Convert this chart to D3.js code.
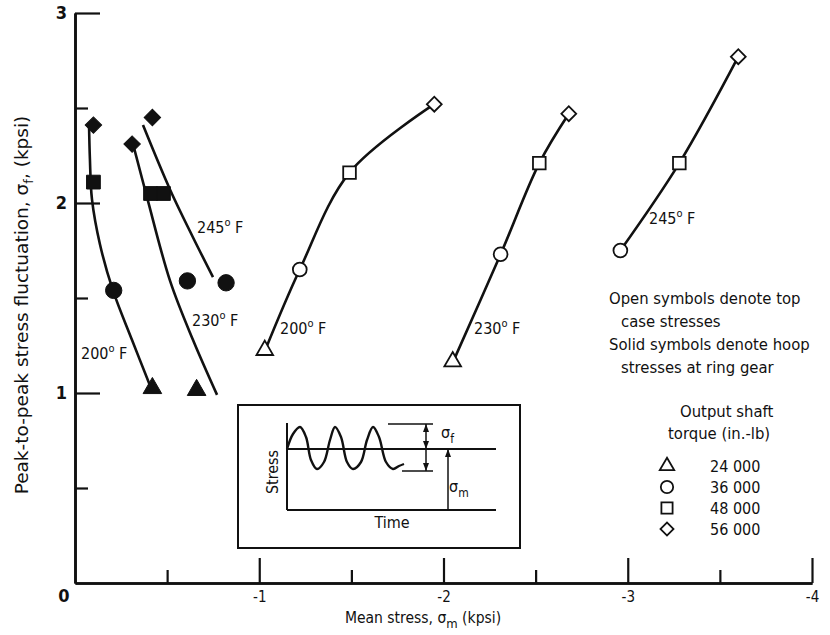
<!DOCTYPE html>
<html>
<head>
<meta charset="utf-8">
<script src="https://cdn.jsdelivr.net/npm/d3@7"></script>
<style>
  html, body { margin: 0; padding: 0; background: #fff; }
  svg { display: block; }
  text { font-family: "DejaVu Sans Condensed", "DejaVu Sans", sans-serif; fill: #111; }
</style>
</head>
<body>
<svg id="chart" width="830" height="635"></svg>
<script>
// Torque levels and the symbol used for each
const torqueLabels = ["24 000", "36 000", "48 000", "56 000"];
const symbolKinds = ["triangle", "circle", "square", "diamond"];

// Top case stresses (open symbols): [torque index, mean stress, fluctuation]
const case200 = [[0, -1.03, 1.22], [1, -1.22, 1.65], [2, -1.49, 2.16], [3, -1.95, 2.52]];
const case230 = [[0, -2.05, 1.16], [1, -2.31, 1.73], [2, -2.52, 2.21], [3, -2.68, 2.47]];
const case245 = [[1, -2.96, 1.75], [2, -3.28, 2.21], [3, -3.60, 2.77]];

// Hoop stresses at ring gear (solid symbols)
const hoop200 = [[3, -0.10, 2.41], [2, -0.10, 2.11], [1, -0.21, 1.54], [0, -0.42, 1.02]];
const hoop230 = [[3, -0.31, 2.31], [2, -0.41, 2.05], [1, -0.61, 1.59], [0, -0.66, 1.01]];
const hoop245 = [[3, -0.42, 2.45], [2, -0.48, 2.05], [1, -0.82, 1.58]];

// Faired curves drawn through the hoop-stress data
const hoopFit200 = [[-0.076, 2.42], [-0.081, 2.23], [-0.092, 2.02], [-0.136, 1.78], [-0.206, 1.54], [-0.309, 1.28], [-0.407, 1.04]];
const hoopFit230 = [[-0.315, 2.31], [-0.391, 2.03], [-0.516, 1.59], [-0.640, 1.28], [-0.771, 0.99]];
const hoopFit245 = [[-0.369, 2.41], [-0.516, 2.07], [-0.640, 1.82], [-0.749, 1.61]];

// Axis ticks
const xMajor = [-1, -2, -3, -4];
const xMinor = [-0.5, -1.5, -2.5, -3.5];
const yMajor = [0, 1, 2, 3];
const yMinor = [0.5, 1.5, 2.5];

const svg = d3.select("#chart");
const x = d3.scaleLinear().domain([0, -4]).range([75, 812]);
const y = d3.scaleLinear().domain([0, 3]).range([583, 13]);

// ---- axes ----
function styleAxis(g) {
  g.select(".domain").attr("stroke", "#111").attr("stroke-width", 2.6);
  g.selectAll(".tick line").attr("stroke", "#111").attr("stroke-width", 2.2);
}
const xAxisMinor = d3.axisBottom(x).tickValues(xMinor).tickSize(-13).tickFormat("").tickSizeOuter(0);
const xAxisMajor = d3.axisBottom(x).tickValues(xMajor).tickSize(-25).tickSizeOuter(0).tickPadding(8)
  .tickFormat(d => "-" + Math.abs(d));
svg.append("g").attr("transform", `translate(0,${y(0)})`).call(xAxisMinor).call(styleAxis);
const gx = svg.append("g").attr("transform", `translate(0,${y(0)})`).call(xAxisMajor).call(styleAxis);
gx.selectAll(".tick text").style("font-size", "15px").style("font-family", "DejaVu Sans Condensed").attr("fill", "#111");

const yAxisMinor = d3.axisLeft(y).tickValues(yMinor).tickSize(-13).tickFormat("").tickSizeOuter(0);
const yAxisMajor = d3.axisLeft(y).tickValues(yMajor.filter(d => d > 0)).tickSize(-25).tickSizeOuter(0).tickPadding(8)
  .tickFormat(d3.format("d"));
svg.append("g").attr("transform", `translate(${x(0)},0)`).call(yAxisMinor).call(styleAxis);
const gy = svg.append("g").attr("transform", `translate(${x(0)},0)`).call(yAxisMajor).call(styleAxis);
gy.selectAll(".tick text").style("font-size", "18px").style("font-weight", "bold")
  .style("font-family", "DejaVu Sans Condensed").attr("fill", "#111");
// origin label sits below the corner
svg.append("text").attr("x", x(0) - 11).attr("y", y(0) + 19).attr("text-anchor", "middle")
  .style("font-size", "18px").style("font-weight", "bold").text(yMajor[0]);

// ---- axis titles ----
const yTitle = svg.append("text").attr("transform", `translate(28,305) rotate(-90)`)
  .attr("text-anchor", "middle").style("font-size", "18.5px").style("font-family", "DejaVu Sans");
yTitle.append("tspan").text("Peak-to-peak stress fluctuation, σ");
yTitle.append("tspan").attr("dy", 5).style("font-size", "13px").text("f");
yTitle.append("tspan").attr("dy", -5).text(", (kpsi)");

const xTitle = svg.append("text").attr("x", 423).attr("y", 623).attr("text-anchor", "middle").style("font-size", "15.5px");
xTitle.append("tspan").text("Mean stress, σ");
xTitle.append("tspan").attr("dy", 5).style("font-size", "13px").text("m");
xTitle.append("tspan").attr("dy", -5).text(" (kpsi)");

// ---- curves ----
const lineThrough = d3.line().x(d => x(d[0])).y(d => y(d[1])).curve(d3.curveCatmullRom.alpha(0.5));
const curveG = svg.append("g").attr("fill", "none").attr("stroke", "#111").attr("stroke-width", 2.6);
[hoopFit200, hoopFit230, hoopFit245].forEach(pts => curveG.append("path").attr("d", lineThrough(pts)));
[case200, case230, case245].forEach(s => curveG.append("path").attr("d", lineThrough(s.map(d => [d[1], d[2]]))));

// ---- symbols ----
const openSize = { triangle: 120, circle: 150, square: 160, diamond: 110 };
const solidSize = { triangle: 150, circle: 210, square: 190, diamond: 135 };
const keySize = { triangle: 90, circle: 120, square: 125, diamond: 85 };
function symPath(kind, size) {
  const type = kind === "triangle" ? d3.symbolTriangle
    : kind === "circle" ? d3.symbolCircle : d3.symbolSquare;
  return d3.symbol().type(type).size(size)();
}
function drawSymbols(series, solid) {
  series.forEach(([t, mx, fy]) => {
    const kind = symbolKinds[t];
    const size = (solid ? solidSize : openSize)[kind];
    const rot = kind === "diamond" ? 45 : 0;
    const dy = kind === "triangle" ? -1 : 0;
    svg.append("path")
      .attr("d", symPath(kind, size))
      .attr("transform", `translate(${x(mx)},${y(fy) + dy}) rotate(${rot})`)
      .attr("fill", solid ? "#111" : "#fff")
      .attr("stroke", "#111").attr("stroke-width", solid ? 1 : 1.8);
  });
}
[case200, case230, case245].forEach(s => drawSymbols(s, false));
[hoop200, hoop230, hoop245].forEach(s => drawSymbols(s, true));

// ---- temperature labels ----
function tempLabel(px, py, temp) {
  const t = svg.append("text").attr("x", px).attr("y", py).style("font-size", "16px");
  t.append("tspan").text(temp);
  t.append("tspan").attr("dy", -7).style("font-size", "11px").text("o");
  t.append("tspan").attr("dy", 7).text(" F");
}
tempLabel(197, 233, "245");
tempLabel(192, 326, "230");
tempLabel(81, 359, "200");
tempLabel(280, 334, "200");
tempLabel(474, 334, "230");
tempLabel(649, 224, "245");

// ---- notes and legend ----
const notes = [
  ["Open symbols denote top", 609, 304],
  ["case stresses", 621, 327],
  ["Solid symbols denote hoop", 609, 350],
  ["stresses at ring gear", 621, 373],
  ["Output shaft", 680, 417],
  ["torque (in.-lb)", 668, 439]
];
notes.forEach(([s, px, py]) => svg.append("text").attr("x", px).attr("y", py).style("font-size", "16.5px").text(s));

const legendRows = [466, 487, 508, 529];
torqueLabels.forEach((lab, i) => {
  const kind = symbolKinds[i];
  svg.append("path")
    .attr("d", symPath(kind, keySize[kind]))
    .attr("transform", `translate(667,${legendRows[i]}) rotate(${kind === "diamond" ? 45 : 0})`)
    .attr("fill", "#fff").attr("stroke", "#111").attr("stroke-width", 1.8);
  svg.append("text").attr("x", 710).attr("y", legendRows[i] + 6).style("font-size", "16px").text(lab);
});

// ---- inset: definition of mean and fluctuating stress ----
const inset = svg.append("g");
inset.append("rect").attr("x", 238).attr("y", 405).attr("width", 282).attr("height", 143)
  .attr("fill", "#fff").attr("stroke", "#111").attr("stroke-width", 2);
function seg(x1, y1, x2, y2, w) {
  inset.append("line").attr("x1", x1).attr("y1", y1).attr("x2", x2).attr("y2", y2)
    .attr("stroke", "#111").attr("stroke-width", w || 2);
}
seg(287, 423, 287, 510);          // stress axis
seg(287, 510, 496, 510);          // time axis
seg(287, 449, 496, 449);          // mean level
// cyclic stress trace
const wave = [[287, 449], [293, 434], [300, 427], [306, 437], [311, 460], [317, 469], [324, 462],
  [330, 440], [335, 427], [341, 437], [347, 462], [353, 469], [361, 462],
  [367, 440], [373, 427], [379, 437], [386, 462], [393, 469], [399, 466], [404, 464]];
inset.append("path").attr("d", d3.line().curve(d3.curveCatmullRom)(wave))
  .attr("fill", "none").attr("stroke", "#111").attr("stroke-width", 2.4);
seg(388, 424, 433, 424, 1.5);     // peak level
seg(402, 471, 433, 471, 1.5);     // trough level
seg(426, 424, 426, 471, 1.5);     // fluctuation range
seg(448, 449, 448, 510, 1.5);     // mean range
function arrow(px, py, dir) {
  inset.append("path")
    .attr("d", `M${px},${py} L${px - 3},${py - 8 * dir} L${px + 3},${py - 8 * dir} Z`)
    .attr("fill", "#111");
}
arrow(426, 424, -1);
arrow(426, 471, 1);
arrow(426, 449, 1);
arrow(448, 449, -1);
const sf = inset.append("text").attr("x", 441).attr("y", 438).style("font-size", "16px");
sf.append("tspan").text("σ");
sf.append("tspan").attr("dy", 5).style("font-size", "12px").text("f");
const sm = inset.append("text").attr("x", 449).attr("y", 492).style("font-size", "16px");
sm.append("tspan").text("σ");
sm.append("tspan").attr("dy", 5).style("font-size", "12px").text("m");
inset.append("text").attr("transform", "translate(278,472) rotate(-90)").attr("text-anchor", "middle")
  .style("font-size", "16px").text("Stress");
inset.append("text").attr("x", 392).attr("y", 528).attr("text-anchor", "middle")
  .style("font-size", "16px").text("Time");
</script>
</body>
</html>
